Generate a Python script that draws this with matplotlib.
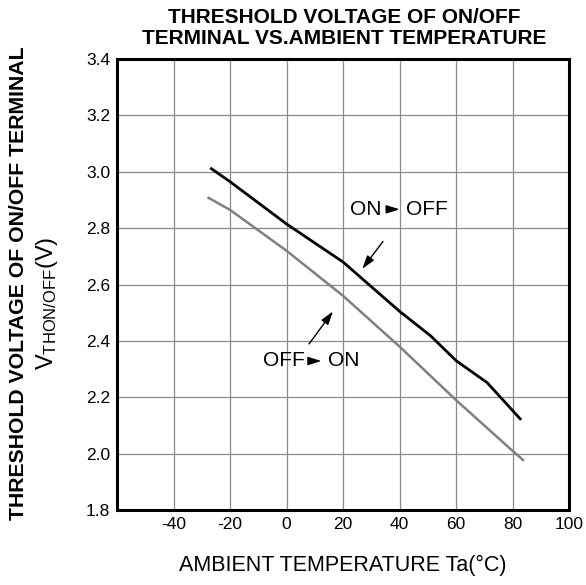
import matplotlib
matplotlib.use("Agg")
import matplotlib.pyplot as plt

plt.rcParams['font.family'] = ['Liberation Sans', 'DejaVu Sans']
plt.rcParams['mathtext.fontset'] = 'custom'
plt.rcParams['mathtext.rm'] = 'Liberation Sans'
plt.rcParams['mathtext.it'] = 'Liberation Sans'

# Data
on_off_temp = [-27, -20, 0, 20, 40, 51, 60, 71, 83]
on_off_volt = [3.014, 2.965, 2.815, 2.68, 2.505, 2.418, 2.33, 2.252, 2.12]
off_on_temp = [-28, -20, 0, 20, 40, 60, 80, 84]
off_on_volt = [2.91, 2.865, 2.72, 2.56, 2.38, 2.19, 2.01, 1.975]
x_ticks = [-40, -20, 0, 20, 40, 60, 80, 100]
y_ticks = [1.8, 2.0, 2.2, 2.4, 2.6, 2.8, 3.0, 3.2, 3.4]

fig = plt.figure(figsize=(5.86, 5.85), dpi=100)
ax = fig.add_axes([0.1997, 0.128, 0.7716, 0.771])

ax.plot(on_off_temp, on_off_volt, color='black', lw=2.0, solid_capstyle='butt', zorder=3)
ax.plot(off_on_temp, off_on_volt, color='#808080', lw=1.8, solid_capstyle='butt', zorder=3)

ax.set_xlim(-60, 100)
ax.set_ylim(1.8, 3.4)
ax.set_xticks(x_ticks)
ax.set_yticks(y_ticks)
ax.set_xticklabels([str(t) for t in x_ticks])
ax.set_yticklabels([f"{v:.1f}" for v in y_ticks])
ax.tick_params(length=0, labelsize=12.5)
ax.tick_params(axis='x', pad=5)
ax.tick_params(axis='y', pad=5)
ax.grid(True, color='#8a8a8a', lw=0.9)
ax.set_axisbelow(True)
for s in ax.spines.values():
    s.set_linewidth(2.2)
    s.set_color('black')

fig.text(0.5845, 0.033, "AMBIENT TEMPERATURE Ta(°C)", ha='center', va='center', fontsize=15.5)

fig.text(0.587, 0.952, "THRESHOLD VOLTAGE OF ON/OFF\nTERMINAL VS.AMBIENT TEMPERATURE",
         ha='center', va='center', fontsize=15, fontweight='bold', linespacing=1.08)
fig.text(0.031, 0.516, "THRESHOLD VOLTAGE OF ON/OFF TERMINAL", rotation=90,
         ha='center', va='center', fontsize=15.3, fontweight='bold')
fig.text(0.08, 0.482, r"V$_{\mathrm{THON/OFF}}$(V)", rotation=90,
         ha='center', va='center', fontsize=17)

# Annotations
arrow_kw = dict(arrowstyle='-|>,head_length=0.8,head_width=0.25', color='black', lw=1.0)
ax.text(22.3, 2.867, "ON", fontsize=15, ha='left', va='center')
ax.annotate("", xy=(41.0, 2.867), xytext=(34.3, 2.867), arrowprops=arrow_kw)
ax.text(42.1, 2.867, "OFF", fontsize=15, ha='left', va='center')
ax.annotate("", xy=(26.2, 2.648), xytext=(34.7, 2.761), arrowprops=arrow_kw)

ax.text(-8.5, 2.329, "OFF", fontsize=15, ha='left', va='center')
ax.annotate("", xy=(13.3, 2.329), xytext=(7.4, 2.329), arrowprops=arrow_kw)
ax.text(14.5, 2.329, "ON", fontsize=15, ha='left', va='center')
ax.annotate("", xy=(17.0, 2.513), xytext=(7.4, 2.382), arrowprops=arrow_kw)

fig.savefig("out.png", dpi=100)
